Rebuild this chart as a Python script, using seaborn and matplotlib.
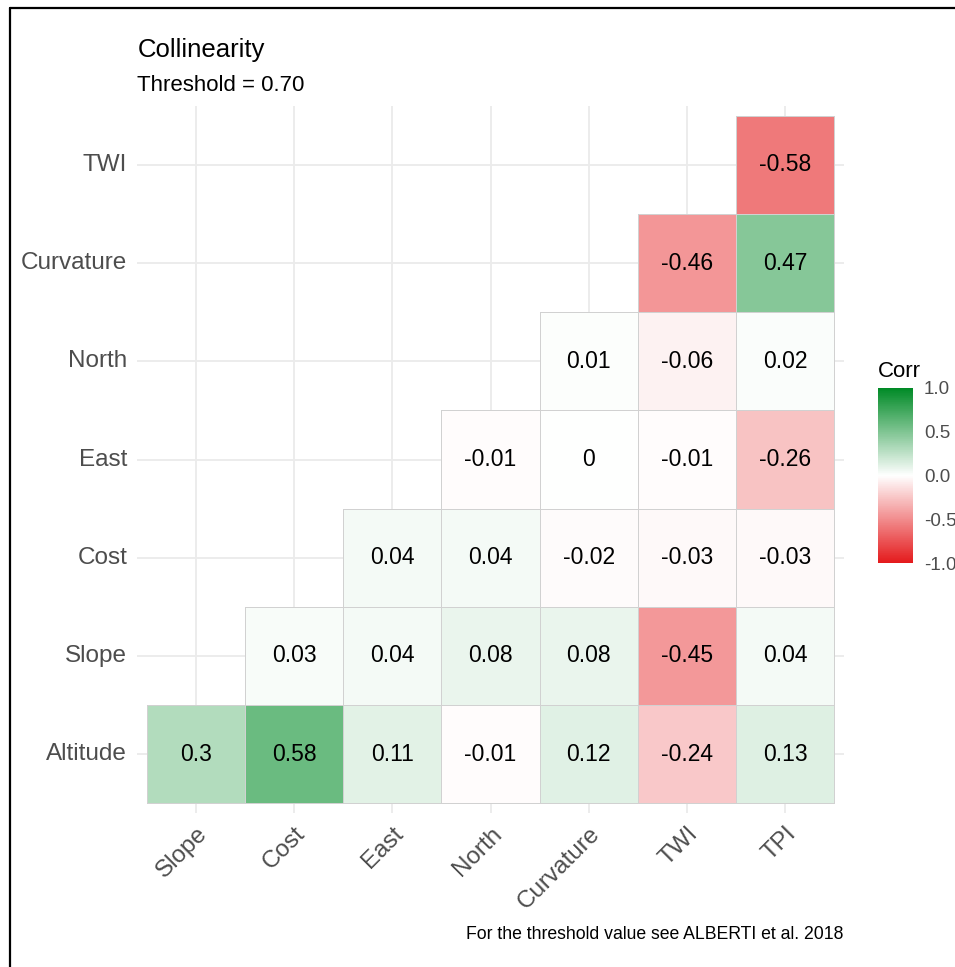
import numpy as np
import pandas as pd
import matplotlib
matplotlib.use('Agg')
import matplotlib.pyplot as plt
from matplotlib.colors import LinearSegmentedColormap
from matplotlib.lines import Line2D
import seaborn as sns

# lower triangle of the correlation matrix, rows listed top to bottom
rows = ['TWI', 'Curvature', 'North', 'East', 'Cost', 'Slope', 'Altitude']
cols = ['Slope', 'Cost', 'East', 'North', 'Curvature', 'TWI', 'TPI']
r_twi = [-0.58]
r_curvature = [-0.46, 0.47]
r_north = [0.01, -0.06, 0.02]
r_east = [-0.01, 0, -0.01, -0.26]
r_cost = [0.04, 0.04, -0.02, -0.03, -0.03]
r_slope = [0.03, 0.04, 0.08, 0.08, -0.45, 0.04]
r_altitude = [0.3, 0.58, 0.11, -0.01, 0.12, -0.24, 0.13]

cbar_ticks = [-1.0, -0.5, 0.0, 0.5, 1.0]

cmap = LinearSegmentedColormap.from_list('corr', ['#E41A1C', '#FFFFFF', '#008A26'])

tri = [r_twi, r_curvature, r_north, r_east, r_cost, r_slope, r_altitude]
mat = np.full((len(rows), len(cols)), np.nan)
for i, vals in enumerate(tri):
    mat[i, len(cols) - len(vals):] = vals
df = pd.DataFrame(mat, index=rows, columns=cols)
labels = np.array([['' if np.isnan(v) else '{:g}'.format(v) for v in r] for r in mat])

sns.set_style('white')
plt.rcParams['font.family'] = ['Liberation Sans', 'DejaVu Sans']
plt.rcParams['axes.unicode_minus'] = False

fig = plt.figure(figsize=(9.55, 9.67), dpi=100)
ax = fig.add_axes([137 / 955, 1 - 813 / 967, 707 / 955, 707 / 967])
cax = fig.add_axes([878 / 955, 1 - 563 / 967, 35 / 955, 175 / 967])

sns.heatmap(df, ax=ax, cbar_ax=cax, cmap=cmap, vmin=-1, vmax=1,
            annot=labels, fmt='', annot_kws={'size': 16.5, 'color': 'black'},
            linewidths=0.5, linecolor='#D0D0D0',
            cbar_kws={'ticks': cbar_ticks})

# outline only the filled tiles
mesh = ax.collections[0]
mesh.set_edgecolor([(0, 0, 0, 0) if np.isnan(v) else (0.82, 0.82, 0.82, 1)
                    for v in mat.ravel()])
mesh.set_linewidth(0.5)

ax.set_xlim(-0.1, len(cols) + 0.1)
ax.set_ylim(len(rows) + 0.1, -0.1)
ax.grid(True, color='#EBEBEB', lw=1.3)
ax.set_axisbelow(True)
for s in ax.spines.values():
    s.set_visible(False)
ax.set_xlabel('')
ax.set_ylabel('')
ax.tick_params(length=0, pad=7, labelsize=17.5, labelcolor='#4D4D4D')
ax.set_xticklabels(cols, rotation=45, ha='right', va='top', rotation_mode='anchor')
ax.set_yticklabels(rows, rotation=0)

cbar = mesh.colorbar
cbar.outline.set_visible(False)
cax.tick_params(direction='in', colors='white', length=6, width=1,
                left=True, right=True, labelsize=13.5, pad=8)
cax.set_yticklabels(['{:.1f}'.format(v) for v in cbar_ticks])
for t in cax.get_yticklabels():
    t.set_color('#4D4D4D')
cax.set_title('Corr', loc='left', fontsize=16, pad=8, color='black')

fig.text(138 / 955, 1 - 57 / 967, 'Collinearity', fontsize=18.5, va='baseline',
         color='black')
fig.text(137 / 955, 1 - 91 / 967, 'Threshold = 0.70', fontsize=16, va='baseline',
         color='black')
fig.text(843 / 955, 1 - 939 / 967, 'For the threshold value see ALBERTI et al. 2018',
         fontsize=12.7, ha='right', va='baseline', color='black')

# frame around the picture
fig.add_artist(Line2D([10 / 955, 1], [1 - 8 / 967] * 2, transform=fig.transFigure,
                      color='black', lw=1.6))
fig.add_artist(Line2D([10 / 955] * 2, [0, 1 - 8 / 967], transform=fig.transFigure,
                      color='black', lw=1.6))

fig.savefig('out.png', dpi=100)
